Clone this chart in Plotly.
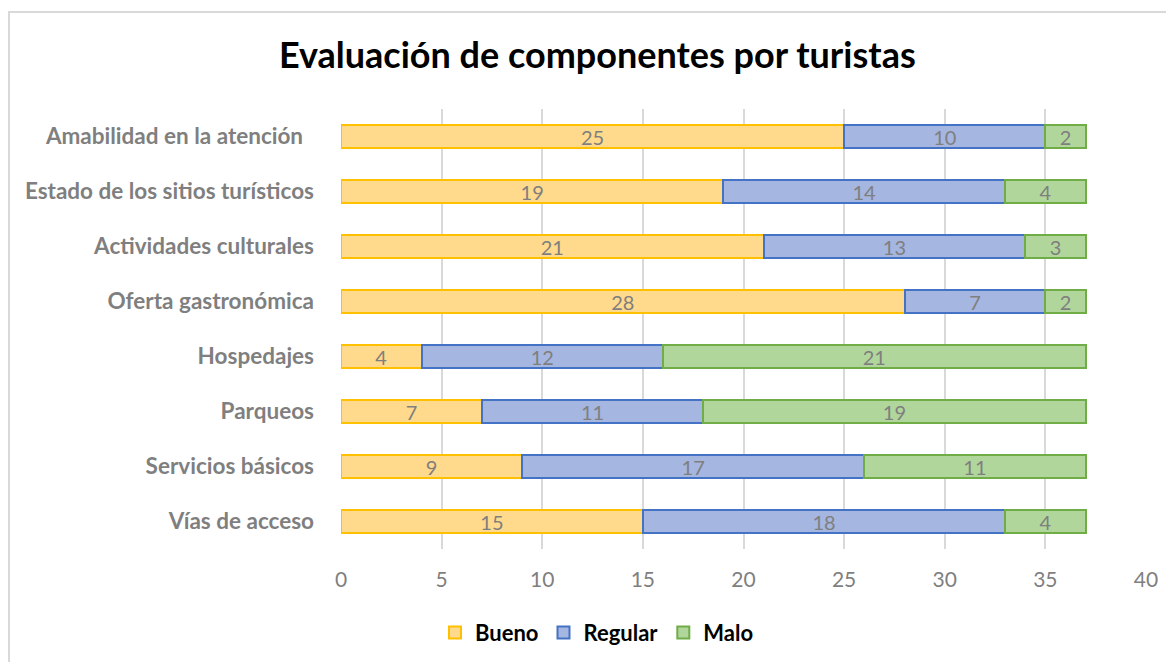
import plotly.graph_objects as go

categories = ["Amabilidad en la atención\u00a0\u00a0", "Estado de los sitios turísticos",
              "Actividades culturales", "Oferta gastronómica", "Hospedajes",
              "Parqueos", "Servicios básicos", "Vías de acceso"]
bueno = [25, 19, 21, 28, 4, 7, 9, 15]
regular = [10, 14, 13, 7, 12, 11, 17, 18]
malo = [2, 4, 3, 2, 21, 19, 11, 4]

series = [
    ("Bueno", bueno, "#FFD98C", "#FFC000"),
    ("Regular", regular, "#A5B6E0", "#4472C4"),
    ("Malo", malo, "#B1D69C", "#70AD47"),
]

FONT = "Lato, Open Sans, sans-serif"

fig = go.Figure()
for name, vals, fill, line in series:
    fig.add_trace(go.Bar(
        y=categories, x=vals, name=name, orientation="h",
        marker=dict(color=fill, line=dict(color=line, width=2)),
        text=vals, textposition="inside", insidetextanchor="middle", textangle=0,
        textfont=dict(family=FONT, size=20, color="#7F7F7F"),
        constraintext="none", hoverinfo="x+name",
    ))

# page renders with an 8px body margin, so compensate in margins
fig.update_layout(
    barmode="stack", bargap=0.59,
    width=1174, height=662,
    margin=dict(l=333, r=36, t=101, b=121),
    paper_bgcolor="white", plot_bgcolor="white",
    title=dict(text="<b>Evaluación de componentes por turistas</b>",
               x=0.502, xanchor="center", y=0.929, yanchor="middle",
               font=dict(family=FONT, size=36, color="#000000")),
    xaxis=dict(range=[0, 40], dtick=5, showgrid=True, gridcolor="#D9D9D9", gridwidth=2,
               zeroline=False, showline=False, ticks="", ticklabelstandoff=16,
               tickfont=dict(family=FONT, size=21, color="#7F7F7F")),
    yaxis=dict(categoryorder="array", categoryarray=categories[::-1],
               showgrid=False, zeroline=False, showline=False, ticks="",
               ticklabelstandoff=26,
               tickfont=dict(family=FONT, size=22.5, color="#7F7F7F", weight="bold")),
    legend=dict(orientation="h", x=0.318, xanchor="center", y=-0.19, yanchor="middle",
                traceorder="normal",
                font=dict(family=FONT, size=22, color="#000000", weight="bold"),
                itemwidth=30),
    shapes=[dict(type="rect", xref="paper", yref="paper",
                 x0=(9 - 341) / 805, x1=(1190 - 341) / 805,
                 y0=(548 - 690) / 440, y1=(548 - 11) / 440,
                 line=dict(color="#D9D9D9", width=2), layer="below")],
    showlegend=True,
)

fig.write_html("out.html")
